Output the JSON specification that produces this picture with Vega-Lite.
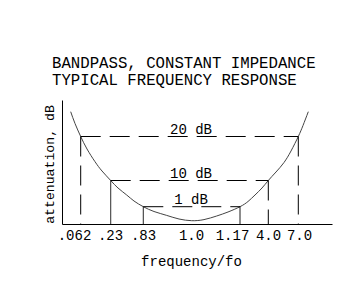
{
  "$schema": "https://vega.github.io/schema/vega-lite/v6.json",
  "width": 270,
  "height": 124,
  "autosize": {"type": "none"},
  "padding": {"left": 62, "top": 100, "right": 9, "bottom": 64},
  "background": "white",
  "config": {
    "view": {"stroke": null},
    "font": "Liberation Mono",
    "axis": {"grid": false, "ticks": false, "tickSize": 0, "domainColor": "black", "domainWidth": 1, "labelColor": "black", "titleColor": "black", "titleFontWeight": "normal", "labelFont": "Liberation Mono", "titleFont": "Liberation Mono"}
  },
  "title": {
    "text": ["BANDPASS, CONSTANT IMPEDANCE", "TYPICAL FREQUENCY RESPONSE"],
    "anchor": "start",
    "frame": "group",
    "dx": -10,
    "fontSize": 15.7,
    "fontWeight": "normal",
    "font": "Liberation Mono",
    "color": "black",
    "lineHeight": 17,
    "baseline": "alphabetic",
    "offset": -1
  },
  "datasets": {
    "curve": [
      {"x": 8.7, "y": 112.3}, {"x": 13, "y": 100.5}, {"x": 18.7, "y": 87.5}, {"x": 25, "y": 75}, {"x": 33, "y": 62.3},
      {"x": 40, "y": 53}, {"x": 48.7, "y": 43.5}, {"x": 56, "y": 36}, {"x": 64.7, "y": 29}, {"x": 72, "y": 23},
      {"x": 81.3, "y": 17.3}, {"x": 92, "y": 12.5}, {"x": 104.7, "y": 8.6}, {"x": 117, "y": 5}, {"x": 129.7, "y": 3.3},
      {"x": 142, "y": 4.4}, {"x": 154.7, "y": 8}, {"x": 166, "y": 12}, {"x": 178, "y": 17.3}, {"x": 186, "y": 22.5},
      {"x": 193, "y": 29}, {"x": 200, "y": 36}, {"x": 206.3, "y": 43.5}, {"x": 214, "y": 52}, {"x": 222, "y": 61.5},
      {"x": 229, "y": 73}, {"x": 236.3, "y": 87.5}, {"x": 241, "y": 98.5}, {"x": 246.3, "y": 112.3}
    ],
    "guides": [
      {"x": 18.7, "x2": 236.3, "y": 87.5, "y2": 87.5, "kind": "dashed"},
      {"x": 48.7, "x2": 206.3, "y": 43.5, "y2": 43.5, "kind": "dashed"},
      {"x": 81.3, "x2": 178, "y": 17.3, "y2": 17.3, "kind": "dashed"},
      {"x": 18.7, "x2": 18.7, "y": 87.5, "y2": 0, "kind": "dashed"},
      {"x": 236.3, "x2": 236.3, "y": 87.5, "y2": 0, "kind": "dashed"},
      {"x": 48.7, "x2": 48.7, "y": 43.5, "y2": 0, "kind": "solid"},
      {"x": 206.3, "x2": 206.3, "y": 43.5, "y2": 0, "kind": "dashed"},
      {"x": 81.3, "x2": 81.3, "y": 17.3, "y2": 0, "kind": "solid"},
      {"x": 178, "x2": 178, "y": 17.3, "y2": 0, "kind": "solid"}
    ],
    "labels": [
      {"x": 129, "y": 87.5, "label": "20  dB"},
      {"x": 129, "y": 43.5, "label": "10  dB"},
      {"x": 129, "y": 17.3, "label": "1 dB"}
    ]
  },
  "layer": [
    {
      "data": {"name": "curve"},
      "mark": {"type": "line", "interpolate": "natural", "color": "#444444", "strokeWidth": 1},
      "encoding": {
        "x": {
          "field": "x", "type": "quantitative",
          "scale": {"domain": [0, 270], "nice": false, "zero": false},
          "axis": {
            "title": "frequency/fo",
            "values": [12, 48, 81, 129, 170, 206, 237],
            "labelExpr": "datum.value == 12 ? '.062' : datum.value == 48 ? '.23' : datum.value == 81 ? '.83' : datum.value == 129 ? '1.0' : datum.value == 170 ? '1.17' : datum.value == 206 ? '4.0' : '7.0'",
            "labelFontSize": 14,
            "labelPadding": 4,
            "labelFlush": false,
            "labelOverlap": false,
            "titleFontSize": 14,
            "titleX": 129,
            "titleY": 41,
            "titleAlign": "center",
            "titleBaseline": "alphabetic"
          }
        },
        "y": {
          "field": "y", "type": "quantitative",
          "scale": {"domain": [0, 124], "nice": false, "zero": false},
          "axis": {
            "title": "attenuation, dB",
            "labels": false,
            "titleFontSize": 13.2,
            "titleAngle": -90,
            "titleX": -9,
            "titleY": 64,
            "titleAlign": "center",
            "titleBaseline": "alphabetic"
          }
        }
      }
    },
    {
      "data": {"name": "guides"},
      "mark": {"type": "rule", "color": "black", "strokeWidth": 1},
      "encoding": {
        "x": {"field": "x", "type": "quantitative"},
        "x2": {"field": "x2"},
        "y": {"field": "y", "type": "quantitative"},
        "y2": {"field": "y2"},
        "strokeDash": {"field": "kind", "type": "nominal", "scale": {"domain": ["dashed", "solid"], "range": [[20, 9], [1, 0]]}, "legend": null}
      }
    },
    {
      "data": {"name": "labels"},
      "mark": {"type": "text", "baseline": "alphabetic", "align": "center", "dy": -3, "fontSize": 14, "font": "Liberation Mono", "color": "black"},
      "encoding": {
        "x": {"field": "x", "type": "quantitative"},
        "y": {"field": "y", "type": "quantitative"},
        "text": {"field": "label"}
      }
    }
  ]
}
